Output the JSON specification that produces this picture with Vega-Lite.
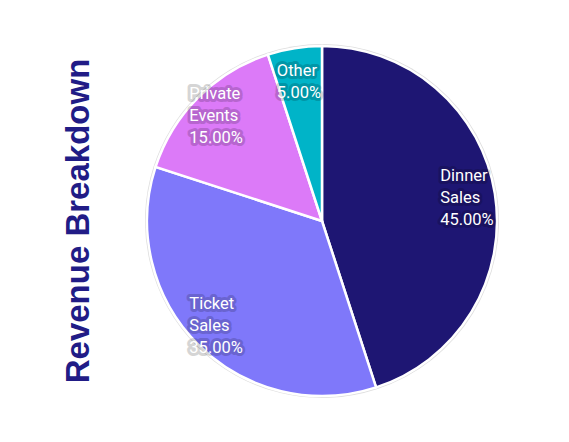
{
  "$schema": "https://vega.github.io/schema/vega-lite/v6.json",
  "width": 444,
  "height": 442,
  "autosize": {"type": "none"},
  "padding": {"left": 100, "right": 25, "top": 0, "bottom": 0},
  "background": "white",
  "title": {
    "text": "Revenue Breakdown",
    "orient": "left",
    "anchor": "middle",
    "offset": 4,
    "font": "Liberation Sans",
    "fontSize": 33,
    "fontWeight": "bold",
    "color": "#211c86"
  },
  "data": {
    "values": [
      {"category": "Dinner Sales", "share": 45, "rank": 1, "label": ["Dinner", "Sales", "45.00%"]},
      {"category": "Ticket Sales", "share": 35, "rank": 2, "label": ["Ticket", "Sales", "35.00%"]},
      {"category": "Private Events", "share": 15, "rank": 3, "label": ["Private", "Events", "15.00%"]},
      {"category": "Other", "share": 5, "rank": 4, "label": ["Other", "5.00%"]}
    ]
  },
  "encoding": {
    "theta": {"field": "share", "type": "quantitative", "stack": true},
    "order": {"field": "rank", "type": "quantitative"}
  },
  "layer": [
    {
      "mark": {"type": "arc", "outerRadius": 177, "fill": "#d4d4d4", "opacity": 0.8}
    },
    {
      "mark": {"type": "arc", "outerRadius": 175, "stroke": "white", "strokeWidth": 2.5},
      "encoding": {
        "color": {
          "field": "category",
          "type": "nominal",
          "scale": {
            "domain": ["Dinner Sales", "Ticket Sales", "Private Events", "Other"],
            "range": ["#1e1673", "#7f78fa", "#dc7af8", "#00b4c8"]
          },
          "legend": null
        }
      }
    },
    {
      "mark": {"type": "text", "radius": 148, "align": "left", "baseline": "middle", "dx": -28, "dy": -22, "font": "Roboto", "fontSize": 16.5, "lineHeight": 22, "fill": "#000000", "stroke": "#000000", "strokeWidth": 6, "opacity": 0.16, "strokeJoin": "round"},
      "encoding": {"text": {"condition": {"test": "datum.category == 'Other'", "value": ""}, "field": "label"}}
    },
    {
      "mark": {"type": "text", "radius": 148, "align": "left", "baseline": "middle", "dx": -28, "dy": -22, "font": "Roboto", "fontSize": 16.5, "lineHeight": 22, "fill": "white"},
      "encoding": {"text": {"condition": {"test": "datum.category == 'Other'", "value": ""}, "field": "label"}}
    },
    {
      "mark": {"type": "text", "radius": 148, "align": "left", "baseline": "middle", "dx": -22, "dy": -4, "font": "Roboto", "fontSize": 16.5, "lineHeight": 22, "fill": "#000000", "stroke": "#000000", "strokeWidth": 6, "opacity": 0.16, "strokeJoin": "round"},
      "encoding": {"text": {"condition": {"test": "datum.category != 'Other'", "value": ""}, "field": "label"}}
    },
    {
      "mark": {"type": "text", "radius": 148, "align": "left", "baseline": "middle", "dx": -22, "dy": -4, "font": "Roboto", "fontSize": 16.5, "lineHeight": 22, "fill": "white"},
      "encoding": {"text": {"condition": {"test": "datum.category != 'Other'", "value": ""}, "field": "label"}}
    }
  ],
  "config": {"view": {"stroke": null}}
}
